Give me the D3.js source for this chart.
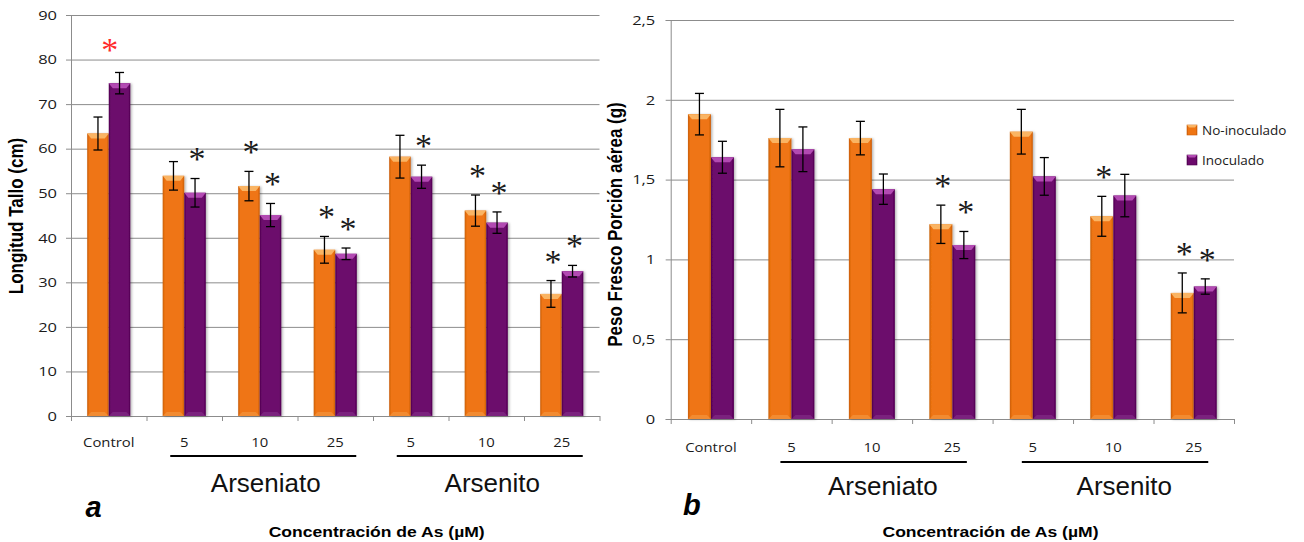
<!DOCTYPE html>
<html>
<head>
<meta charset="utf-8">
<script src="https://cdn.jsdelivr.net/npm/d3@7"></script>
<style>
  body { margin: 0; background: #fff; }
  svg { display: block; }
</style>
</head>
<body>
<svg id="fig" width="1304" height="542"></svg>
<script>
// ---- data ----
const categories = ["Control", "5", "10", "25", "5", "10", "25"];
const seriesNames = ["No-inoculado", "Inoculado"];
const compounds = [
  { name: "Arseniato", first: 1, last: 3 },
  { name: "Arsenito", first: 4, last: 6 }
];

// (a) stem length, cm
const talloNo     = [63.4, 53.9, 51.6, 37.3, 58.2, 46.1, 27.4];
const talloNoErr  = [3.7, 3.2, 3.3, 3.0, 4.8, 3.5, 3.0];
const talloIn     = [74.7, 50.1, 45.1, 36.4, 53.7, 43.4, 32.5];
const talloInErr  = [2.4, 3.2, 2.6, 1.3, 2.6, 2.4, 1.3];
const talloSigNo  = [0, 0, 1, 1, 0, 1, 1];
const talloSigIn  = [0, 1, 1, 1, 1, 1, 1];
const talloSigPair = [1, 0, 0, 0, 0, 0, 0];   // inoculated vs control, red mark
const talloTicks  = [0, 10, 20, 30, 40, 50, 60, 70, 80, 90];

// (b) shoot fresh weight, g
const pesoNo      = [1.91, 1.76, 1.76, 1.22, 1.80, 1.27, 0.79];
const pesoNoErr   = [0.13, 0.18, 0.105, 0.12, 0.14, 0.125, 0.125];
const pesoIn      = [1.64, 1.69, 1.44, 1.09, 1.52, 1.40, 0.83];
const pesoInErr   = [0.10, 0.14, 0.095, 0.085, 0.118, 0.133, 0.048];
const pesoSigNo   = [0, 0, 0, 1, 0, 1, 1];
const pesoSigIn   = [0, 0, 0, 1, 0, 0, 1];
const pesoSigPair = [0, 0, 0, 0, 0, 0, 0];
const pesoTicks   = [0, 0.5, 1, 1.5, 2, 2.5];

// ---- drawing ----
const svg = d3.select("#fig");
const esLocale = d3.formatLocale({ decimal: ",", thousands: ".", grouping: [3], currency: ["", " €"] });
const fmtComma = v => esLocale.format("~g")(v);

const palette = [
  { body: "#ef7512", edge: "#c85d08", bevel: "#fab463", base: "#f39a45" },
  { body: "#6c0a6c", edge: "#4e004e", bevel: "#b24ab2", base: "#86308a" }
];

const defs = svg.append("defs");
palette.forEach((p, i) => {
  const lg = defs.append("linearGradient").attr("id", "barGrad" + i)
    .attr("x1", "0").attr("x2", "1").attr("y1", "0").attr("y2", "0");
  lg.append("stop").attr("offset", "0").attr("stop-color", p.edge);
  lg.append("stop").attr("offset", "0.1").attr("stop-color", p.body);
  lg.append("stop").attr("offset", "0.9").attr("stop-color", p.body);
  lg.append("stop").attr("offset", "1").attr("stop-color", p.edge);
});
const sh = defs.append("filter").attr("id", "barShadow")
  .attr("x", "-20%").attr("y", "-5%").attr("width", "150%").attr("height", "110%");
sh.append("feDropShadow").attr("dx", 1.5).attr("dy", 0.5).attr("stdDeviation", 1.2)
  .attr("flood-color", "#000").attr("flood-opacity", 0.28);

const GRID = "#8c8c8c";
const TICK_FONT = "'Open Sans', 'Liberation Sans', sans-serif";
const ARIAL = "'Liberation Sans', Arial, sans-serif";
const SERIF = "'Liberation Serif', 'Times New Roman', serif";
const TICK_SIZE = 13.5;
const Y_TICK_STRETCH = 1.22;
const X_TICK_STRETCH = 1.1;

function panel(c) {
  const g = svg.append("g");
  const n = categories.length;
  const x = d3.scaleBand().domain(d3.range(n)).range([c.left, c.right]).paddingInner(0).paddingOuter(0);
  const xs = d3.scaleBand().domain([0, 1]).range([0, x.bandwidth()]).paddingInner(0).paddingOuter(0.75);
  const y = d3.scaleLinear().domain([c.ticks[0], c.ticks[c.ticks.length - 1]]).range([c.bottom, c.top]);

  // horizontal gridlines
  g.append("g").attr("transform", `translate(${c.left},0)`)
    .call(d3.axisLeft(y).tickValues(c.ticks).tickSize(-(c.right - c.left)).tickFormat(""))
    .call(s => { s.select(".domain").remove(); s.selectAll("line").attr("stroke", GRID).attr("stroke-width", 1); });

  // value axis
  g.append("g").attr("transform", `translate(${c.left},0)`)
    .call(d3.axisLeft(y).tickValues(c.ticks).tickSize(5).tickPadding(c.yPad).tickFormat(c.fmt))
    .call(s => {
      s.select(".domain").attr("stroke", GRID);
      s.selectAll("line").attr("stroke", GRID);
      s.selectAll("text")
        .attr("font-family", TICK_FONT).attr("font-size", TICK_SIZE).attr("fill", "#1a1a1a")
        .attr("x", -(5 + c.yPad) / Y_TICK_STRETCH)
        .attr("transform", `scale(${Y_TICK_STRETCH},1)`);
    });

  // category axis: tick marks at category boundaries
  const edge = d3.scaleLinear().domain([0, n]).range([c.left, c.right]);
  g.append("g").attr("transform", `translate(0,${c.bottom})`)
    .call(d3.axisBottom(edge).tickValues(d3.range(n + 1)).tickSize(5).tickSizeOuter(0).tickFormat(""))
    .call(s => { s.select(".domain").attr("stroke", GRID); s.selectAll("line").attr("stroke", GRID); });

  // category labels
  g.append("g").attr("transform", `translate(0,${c.bottom})`)
    .call(d3.axisBottom(x).tickSize(0).tickPadding(c.xPad).tickFormat(i => categories[i]))
    .call(s => {
      s.select(".domain").remove();
      s.selectAll("text")
        .attr("font-family", TICK_FONT).attr("font-size", TICK_SIZE).attr("fill", "#1a1a1a")
        .attr("transform", `scale(${X_TICK_STRETCH},1)`);
    });

  // bars
  const rows = categories.map((cat, i) => [
    { i, s: 0, v: c.no[i], e: c.noErr[i], sig: c.sigNo[i] },
    { i, s: 1, v: c.inoc[i], e: c.inErr[i], sig: c.sigIn[i] }
  ]).flat();

  const bw = xs.bandwidth();
  const bars = g.append("g").selectAll("g.bar").data(rows).join("g").attr("class", "bar");
  bars.append("rect")
    .attr("x", d => x(d.i) + xs(d.s))
    .attr("y", d => y(d.v))
    .attr("width", bw)
    .attr("height", d => y(0) - y(d.v))
    .attr("fill", d => `url(#barGrad${d.s})`)
    .attr("filter", "url(#barShadow)");
  // top bevel
  bars.append("path")
    .attr("d", d => {
      const x0 = x(d.i) + xs(d.s), yt = y(d.v);
      return `M${x0},${yt}L${x0 + bw},${yt}L${x0 + bw - 4},${yt + 5}L${x0 + 4},${yt + 5}Z`;
    })
    .attr("fill", d => palette[d.s].bevel);
  // bottom bevel
  bars.append("path")
    .attr("d", d => {
      const x0 = x(d.i) + xs(d.s), yb = y(0);
      return `M${x0 + 4},${yb - 4}L${x0 + bw - 4},${yb - 4}L${x0 + bw},${yb}L${x0},${yb}Z`;
    })
    .attr("fill", d => palette[d.s].base).attr("opacity", 0.6);

  // error bars
  const cap = 4.5;
  const eb = g.append("g").attr("stroke", "#000").attr("stroke-width", 1.3).attr("fill", "none");
  rows.forEach(d => {
    const cx = x(d.i) + xs(d.s) + bw / 2;
    const yHi = y(d.v + d.e), yLo = y(d.v - d.e);
    eb.append("line").attr("x1", cx).attr("x2", cx).attr("y1", yHi).attr("y2", yLo);
    eb.append("line").attr("x1", cx - cap).attr("x2", cx + cap).attr("y1", yHi).attr("y2", yHi);
    eb.append("line").attr("x1", cx - cap).attr("x2", cx + cap).attr("y1", yLo).attr("y2", yLo);
  });

  // significance marks
  const starSize = 34;
  const starBase = cy => cy + starSize * 0.47;
  rows.filter(d => d.sig).forEach(d => {
    const cx = x(d.i) + xs(d.s) + bw / 2 + 2;
    g.append("text").attr("x", cx).attr("y", starBase(y(d.v + d.e) - 24))
      .attr("text-anchor", "middle").attr("font-family", SERIF).attr("font-size", starSize)
      .attr("fill", "#1a1a1a").text("*");
  });
  c.sigPair.forEach((p, i) => {
    if (!p) return;
    const top = Math.max(c.no[i] + c.noErr[i], c.inoc[i] + c.inErr[i]);
    g.append("text").attr("x", x(i) + x.bandwidth() / 2 + 1).attr("y", starBase(y(top) - 27))
      .attr("text-anchor", "middle").attr("font-family", SERIF).attr("font-size", starSize)
      .attr("fill", "#ff2a2a").text("*");
  });

  // compound brackets and names
  compounds.forEach(cp => {
    const xa = x(cp.first) + x.bandwidth() / 2, xb = x(cp.last) + x.bandwidth() / 2;
    g.append("line").attr("x1", xa + c.lineL).attr("x2", xb + c.lineR)
      .attr("y1", c.lineY).attr("y2", c.lineY).attr("stroke", "#000").attr("stroke-width", 2);
    g.append("text").attr("x", (xa + xb) / 2 + c.nameDx).attr("y", c.nameY)
      .attr("text-anchor", "middle").attr("font-family", ARIAL).attr("font-size", 26)
      .attr("fill", "#111").text(cp.name);
  });

  // value axis title
  g.append("text")
    .attr("transform", `translate(${c.yTitleX},${c.yTitleY}) scale(1.2,1) rotate(-90)`)
    .attr("text-anchor", "middle").attr("font-family", ARIAL).attr("font-weight", "bold")
    .attr("font-size", 17).attr("fill", "#000").text(c.yTitle);

  // category axis title
  g.append("text")
    .attr("transform", `translate(${c.xTitleX},${c.xTitleY}) scale(1.17,1)`)
    .attr("text-anchor", "middle").attr("font-family", ARIAL).attr("font-weight", "bold")
    .attr("font-size", 15).attr("fill", "#000").text("Concentración de As (µM)");

  // panel letter
  g.append("text").attr("x", c.letterX).attr("y", c.letterY)
    .attr("font-family", ARIAL).attr("font-weight", "bold").attr("font-style", "italic")
    .attr("font-size", 29).attr("fill", "#000").text(c.letter);

  return { x, xs, y };
}

panel({
  left: 71, right: 599.5, top: 15, bottom: 416,
  ticks: talloTicks, fmt: d3.format("d"), yPad: 9, xPad: 21,
  no: talloNo, noErr: talloNoErr, inoc: talloIn, inErr: talloInErr,
  sigNo: talloSigNo, sigIn: talloSigIn, sigPair: talloSigPair,
  lineL: -14, lineR: 21, lineY: 456, nameDx: 6, nameY: 492,
  yTitle: "Longitud Tallo (cm)", yTitleX: 23, yTitleY: 216,
  xTitleX: 376.7, xTitleY: 537,
  letter: "a", letterX: 85.5, letterY: 517
});

panel({
  left: 670.7, right: 1234, top: 20, bottom: 419,
  ticks: pesoTicks, fmt: fmtComma, yPad: 10.5, xPad: 23,
  no: pesoNo, noErr: pesoNoErr, inoc: pesoIn, inErr: pesoInErr,
  sigNo: pesoSigNo, sigIn: pesoSigIn, sigPair: pesoSigPair,
  lineL: -11, lineR: 14.5, lineY: 462, nameDx: 11, nameY: 495,
  yTitle: "Peso Fresco Porción aérea (g)", yTitleX: 621.7, yTitleY: 224.5,
  xTitleX: 990.5, xTitleY: 537,
  letter: "b", letterX: 683, letterY: 515
});

// legend
const legend = svg.append("g").attr("transform", "translate(1187,125)");
seriesNames.forEach((name, i) => {
  const row = legend.append("g").attr("transform", `translate(0,${i * 30})`);
  row.append("rect").attr("width", 10).attr("height", 10)
    .attr("fill", `url(#barGrad${i})`).attr("stroke", palette[i].edge).attr("stroke-width", 0.6);
  row.append("path").attr("d", "M0,0L10,0L8,2.5L2,2.5Z").attr("fill", palette[i].bevel);
  row.append("text").attr("x", 15).attr("y", 5).attr("dy", "0.35em")
    .attr("font-family", TICK_FONT).attr("font-size", TICK_SIZE).attr("fill", "#1a1a1a").text(name);
});
</script>
</body>
</html>
